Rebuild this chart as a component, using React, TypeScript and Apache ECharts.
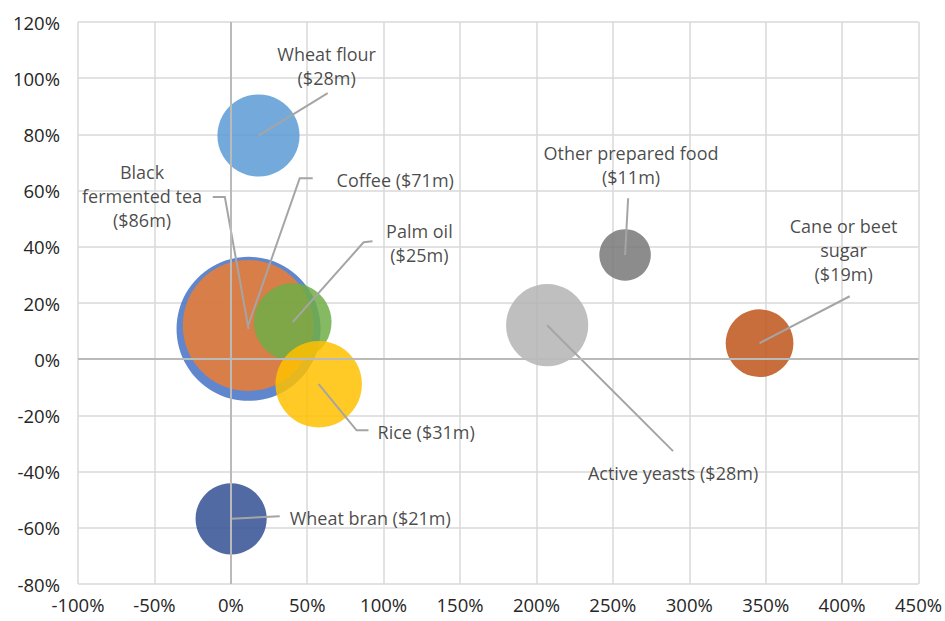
import React, { useEffect, useRef } from "react";
import * as echarts from "echarts";

// Bubble data: x = growth (%), y = growth (%), size = trade value ($m)
const products = [
  "Black fermented tea",
  "Coffee",
  "Palm oil",
  "Rice",
  "Wheat flour",
  "Wheat bran",
  "Active yeasts",
  "Other prepared food",
  "Cane or beet sugar",
];
const xValues = [11.6, 11.4, 40.5, 57.5, 18.1, 0.2, 207, 258, 346];
const yValues = [10.8, 12.0, 13.2, -8.9, 79.6, -56.8, 12.1, 37.1, 5.7];
const tradeValues = [86, 71, 25, 31, 28, 21, 28, 11, 19];

const labelTexts = [
  "Black\nfermented tea\n($86m)",
  "Coffee ($71m)",
  "Palm oil\n($25m)",
  "Rice ($31m)",
  "Wheat flour\n($28m)",
  "Wheat bran ($21m)",
  "Active yeasts ($28m)",
  "Other prepared food\n($11m)",
  "Cane or beet\nsugar\n($19m)",
];

const xTicks = { min: -100, max: 450, interval: 50 };
const yTicks = { min: -80, max: 120, interval: 20 };

// Styles / annotation layout (kept separate from data)
const colors = [
  "#4472C4",
  "#ED7D31",
  "#70AD47",
  "#FFC000",
  "#5B9BD5",
  "#345093",
  "#B4B4B4",
  "#787878",
  "#BE551A",
];
// label anchor in data units, and alignment
const labelAnchors: [number, number, string][] = [
  [-58.1, 58.0, "center"],
  [69.2, 63.7, "left"],
  [123.4, 41.3, "center"],
  [96.0, -26.0, "left"],
  [62.7, 104.4, "center"],
  [38.5, -56.6, "left"],
  [289.4, -40.6, "center"],
  [261.9, 69.0, "center"],
  [401.0, 38.8, "center"],
];
// leader line elbows (data units), ending at the bubble centre
const leaderPoints: [number, number][][] = [
  [[-11.8, 57.7], [-3.9, 57.7]],
  [[53.6, 64.4], [45.1, 64.4]],
  [[92.7, 42.0], [86.9, 41.6]],
  [[90.1, -25.3], [82.3, -25.3]],
  [[63.4, 94.7]],
  [[32.0, -55.9]],
  [[289.4, -32.7]],
  [[260.0, 57.3]],
  [[405.0, 22.4]],
];

const SIZE_K = 15.53;
const FONT = "'Open Sans', sans-serif";

export default function App() {
  const ref = useRef<HTMLDivElement>(null);
  useEffect(() => {
    if (!ref.current) return;
    const chart = echarts.init(ref.current, undefined, { renderer: "svg" });

    const bubbleData = products.map((name, i) => ({
      name,
      value: [xValues[i], yValues[i], tradeValues[i]],
      itemStyle: { color: colors[i], opacity: 0.85 },
    }));

    const labelData = products.map((name, i) => ({
      name,
      value: [labelAnchors[i][0], labelAnchors[i][1]],
      label: {
        formatter: labelTexts[i],
        align: labelAnchors[i][2],
      },
    }));

    const lineData = products.map((name, i) => ({
      name,
      coords: [...leaderPoints[i], [xValues[i], yValues[i]]],
    }));

    const axisLabel = {
      color: "#262626",
      fontSize: 18.5,
      fontFamily: FONT,
      formatter: "{value}%",
    };
    const splitLine = { show: true, lineStyle: { color: "#D9D9D9", width: 1.5 } };

    chart.setOption({
      animation: false,
      backgroundColor: "#ffffff",
      grid: { left: 78, top: 22, right: 25, bottom: 37, containLabel: false },
      xAxis: {
        type: "value",
        ...xTicks,
        axisLine: { show: false, onZero: false },
        axisTick: { show: false },
        axisLabel: { ...axisLabel, margin: 11 },
        splitLine,
      },
      yAxis: {
        type: "value",
        ...yTicks,
        axisLine: { show: false, onZero: false },
        axisTick: { show: false },
        axisLabel: { ...axisLabel, margin: 18 },
        splitLine,
      },
      series: [
        {
          type: "scatter",
          z: 1,
          data: [],
          silent: true,
          markLine: {
            silent: true,
            symbol: "none",
            label: { show: false },
            lineStyle: { color: "#BABABA", width: 2, type: "solid" },
            data: [{ xAxis: 0 }, { yAxis: 0 }],
          },
        },
        {
          type: "scatter",
          z: 2,
          data: bubbleData,
          symbolSize: (v: number[]) => SIZE_K * Math.sqrt(v[2]),
        },
        {
          type: "lines",
          coordinateSystem: "cartesian2d",
          polyline: true,
          z: 3,
          silent: true,
          lineStyle: { color: "#A5A5A5", width: 2, opacity: 1 },
          data: lineData,
        },
        {
          type: "scatter",
          z: 4,
          symbolSize: 0,
          silent: true,
          data: labelData,
          label: {
            show: true,
            position: "inside",
            verticalAlign: "middle",
            color: "#1a1a1a",
            fontSize: 18,
            lineHeight: 24,
            fontFamily: FONT,
          },
        },
      ],
    });
    return () => chart.dispose();
  }, []);
  return <div ref={ref} style={{ width: 945, height: 621, position: "absolute", left: 0, top: 0 }} />;
}
